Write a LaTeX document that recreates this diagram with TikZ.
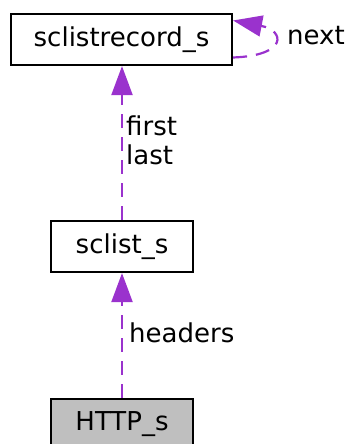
\documentclass[tikz,border=0pt]{standalone}
\usepackage{fontspec}
\setmainfont{DejaVu Sans}
\usetikzlibrary{arrows.meta}

\begin{document}
\begin{tikzpicture}[x=1pt,y=1pt,
        font=\fontsize{26}{29}\selectfont,
        box/.style={draw, line width=2.2pt, minimum height=51pt, inner sep=0pt},
        dep/.style={draw=depcol, line width=2.2pt, dash pattern=on 14pt off 9pt,
            -{Triangle[length=29pt,width=21pt,fill=depcol]}},
        lbl/.style={inner sep=0pt, align=left}]
        \definecolor{depcol}{HTML}{9A32CD}
        \useasboundingbox (0,0) rectangle (351,444);

        \node[box, minimum width=221pt] (rec) at (121.5,404.5) {sclistrecord\_s};
        \node[box, minimum width=142pt] (list) at (122,197.5) {sclist\_s};
        \node[box, minimum width=142pt, fill={rgb,255:red,191;green,191;blue,191}] (http) at (122,19.5) {HTTP\_s};

        \draw[dep] (list.north) -- (list.north |- rec.south);
        \draw[dep] (http.north) -- (list.south);
        \draw[dep] ([yshift=-18pt]rec.east) .. controls +(55,2) and +(52,-10) .. ([yshift=19pt]rec.east);

        \node[lbl, anchor=west] (firstlast) at (126,304) {first\\last};
        \node[lbl, anchor=base west] (headers) at (129,101) {headers};
        \node[lbl, anchor=base west] (next) at (287,399) {next};
    \end{tikzpicture}
\end{document}
